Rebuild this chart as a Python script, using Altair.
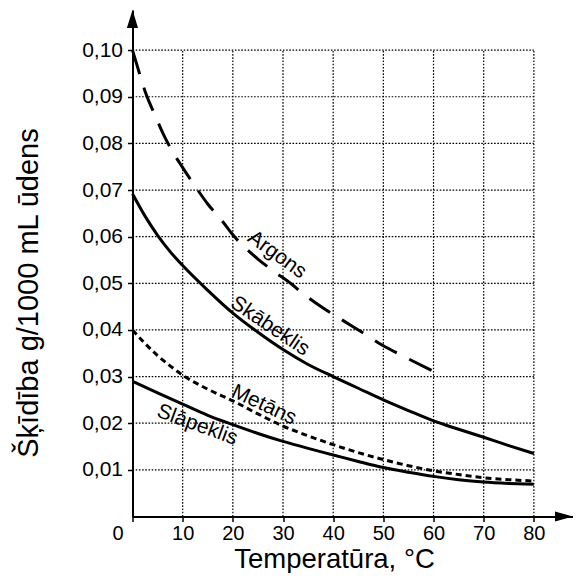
import altair as alt
import pandas as pd

FONT = "Liberation Sans"
X_MAX = 87.8
Y_MAX = 0.1086

x_ticks = [0, 10, 20, 30, 40, 50, 60, 70, 80]
y_ticks = [0.01, 0.02, 0.03, 0.04, 0.05, 0.06, 0.07, 0.08, 0.09, 0.10]
grid_x = [10, 20, 30, 40, 50, 60, 70, 80]
grid_y = [0.01, 0.02, 0.03, 0.04, 0.05, 0.06, 0.07, 0.08, 0.09, 0.10]

t_argons = [0, 1.5, 2.5, 4.5, 6, 8, 10, 13, 15, 18, 20, 25, 28, 31.5, 34, 38, 42, 45.6, 50, 53.2, 60]
s_argons = [0.1000, 0.0946, 0.0912, 0.0860, 0.0823, 0.0782, 0.0748, 0.0700, 0.0670, 0.0632,
            0.0604, 0.0552, 0.0527, 0.0500, 0.0478, 0.0447, 0.0420, 0.0396, 0.0366, 0.0348, 0.0311]

t_skabeklis = [0, 2.5, 5, 7.5, 10, 15, 20, 25, 30, 35, 40, 45, 50, 55, 60, 65, 70, 75, 80]
s_skabeklis = [0.0692, 0.0644, 0.0603, 0.0568, 0.0538, 0.0485, 0.0436, 0.0395, 0.0358, 0.0326,
               0.0300, 0.0275, 0.0250, 0.0227, 0.0205, 0.0187, 0.0170, 0.0152, 0.0135]

t_metans = [0, 2.5, 5, 7.5, 10, 15, 20, 25, 30, 35, 40, 45, 50, 55, 60, 65, 70, 75, 80]
s_metans = [0.0400, 0.0371, 0.0345, 0.0323, 0.0303, 0.0273, 0.0248, 0.0220, 0.0194, 0.0173,
            0.0154, 0.0137, 0.0122, 0.0109, 0.0098, 0.0090, 0.0083, 0.0079, 0.0076]

t_slapeklis = [0, 5, 10, 15, 20, 25, 30, 35, 40, 45, 50, 55, 60, 65, 70, 75, 80]
s_slapeklis = [0.0290, 0.0265, 0.0241, 0.0217, 0.0197, 0.0178, 0.0161, 0.0146, 0.0132, 0.0118,
               0.0105, 0.0095, 0.0086, 0.0079, 0.0074, 0.0071, 0.0069]

label_texts = ["Argons", "Skābeklis", "Metāns", "Slāpeklis"]
label_x = [28.8, 27.4, 26.2, 12.9]
label_y = [0.0561, 0.0408, 0.0239, 0.0196]
label_angle = [36, 34, 25, 20]

xs = alt.Scale(domain=[0, X_MAX], nice=False, zero=False)
ys = alt.Scale(domain=[0, Y_MAX], nice=False, zero=False)

x_axis = alt.Axis(
    values=x_ticks, title="Temperatūra, °C", grid=False,
    domainColor="black", domainWidth=2, tickColor="black", tickWidth=1.5, tickSize=5,
    labelFont=FONT, labelFontSize=20, labelColor="black", labelPadding=2,
    labelOffset={"condition": {"test": "datum.value === 0", "value": -15}, "value": 0},
    labelExpr="datum.value", labelFlush=False, labelOverlap=False,
    titleFont=FONT, titleFontSize=27.5, titleFontWeight="normal", titleColor="black",
    titleX=201.5, titleY=51, titleBaseline="alphabetic", titleAlign="center",
)
y_axis = alt.Axis(
    values=y_ticks, title="Šķīdība g/1000 mL ūdens", grid=False,
    domainColor="black", domainWidth=2, tickColor="black", tickWidth=1.5, tickSize=5,
    labelFont=FONT, labelFontSize=21, labelColor="black", labelPadding=5,
    labelExpr="replace(format(datum.value, '.2f'), '.', ',')", labelOverlap=False,
    titleFont=FONT, titleFontSize=29, titleFontWeight="normal", titleColor="black",
    titleAngle=-90, titleX=-95.5, titleY=282.5, titleBaseline="alphabetic", titleAlign="center",
)

X = lambda f="x": alt.X(f"{f}:Q", scale=xs, axis=x_axis)
Y = lambda f="y": alt.Y(f"{f}:Q", scale=ys, axis=y_axis)

df_gx = pd.DataFrame({"x": grid_x, "y": [0] * len(grid_x), "y2": [0.10] * len(grid_x)})
df_gy = pd.DataFrame({"y": grid_y, "x": [0] * len(grid_y), "x2": [80] * len(grid_y)})

grid_style = dict(color="black", strokeWidth=1.2, strokeDash=[1.6, 1.6])
vgrid = alt.Chart(df_gx).mark_rule(**grid_style).encode(x=X(), y=Y(), y2="y2:Q")
hgrid = alt.Chart(df_gy).mark_rule(**grid_style).encode(x=X(), x2="x2:Q", y=Y())


def curve(ts, ss, dash):
    d = pd.DataFrame({"x": ts, "y": ss})
    kw = dict(color="black", strokeWidth=3, strokeCap="butt", interpolate="monotone")
    if dash:
        kw["strokeDash"] = dash
    return alt.Chart(d).mark_line(**kw).encode(x=X(), y=Y())


l_ar = curve(t_argons, s_argons, [25, 14])
l_o2 = curve(t_skabeklis, s_skabeklis, None)
l_ch4 = curve(t_metans, s_metans, [6, 4])
l_n2 = curve(t_slapeklis, s_slapeklis, None)

df_lab = pd.DataFrame({"x": label_x, "y": label_y, "t": label_texts, "a": label_angle})
labels = alt.Chart(df_lab).mark_text(
    font=FONT, fontSize=21, color="black", align="center", baseline="middle"
).encode(x=X(), y=Y(), text="t:N", angle=alt.Angle("a:Q", scale=None))

arrow_y = alt.Chart(pd.DataFrame({"x": [0], "y": [Y_MAX]})).mark_point(
    shape="M0,0L-0.62,2L0.62,2Z", size=324, filled=True, color="black", opacity=1, strokeWidth=0
).encode(x=X(), y=Y())
arrow_x = alt.Chart(pd.DataFrame({"x": [X_MAX], "y": [0]})).mark_point(
    shape="M0,0L-2,-0.55L-2,0.55Z", size=324, filled=True, color="black", opacity=1, strokeWidth=0
).encode(x=X(), y=Y())

chart = alt.layer(vgrid, hgrid, l_ar, l_o2, l_ch4, l_n2, labels, arrow_y, arrow_x).properties(
    width=440.5, height=506.5,
    autosize=alt.AutoSizeParams(type="none"),
    padding={"left": 124.5, "top": 2, "right": 0, "bottom": 56.5},
    background="white",
).configure_view(stroke=None)

chart.save("out.html", embed_options={"renderer": "svg", "actions": False})
